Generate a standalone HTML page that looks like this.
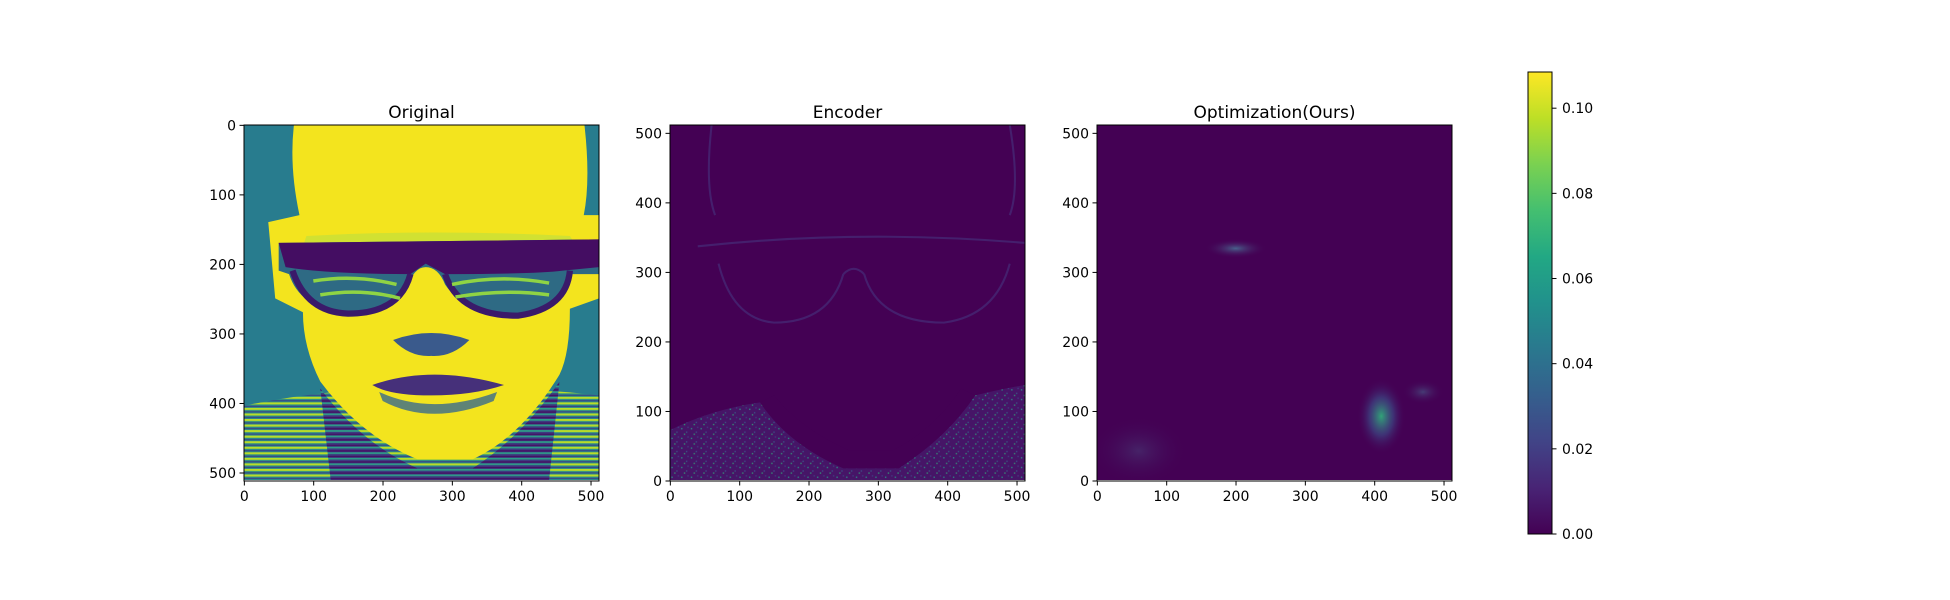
<!DOCTYPE html>
<html><head><meta charset="utf-8"><style>
html,body{margin:0;padding:0;background:#fff;}
svg{display:block;font-family:"DejaVu Sans","Liberation Sans",sans-serif;}
</style></head><body>
<svg id="fig" width="1950" height="600" viewBox="0 0 1950 600">
<defs>
 <linearGradient id="vir" x1="0" y1="1" x2="0" y2="0">
  <stop offset="0" stop-color="#440154"/><stop offset="0.1" stop-color="#482475"/>
  <stop offset="0.2" stop-color="#414487"/><stop offset="0.3" stop-color="#355f8d"/>
  <stop offset="0.4" stop-color="#2a788e"/><stop offset="0.5" stop-color="#21918c"/>
  <stop offset="0.6" stop-color="#22a884"/><stop offset="0.7" stop-color="#44bf70"/>
  <stop offset="0.8" stop-color="#7ad151"/><stop offset="0.9" stop-color="#bddf26"/>
  <stop offset="1" stop-color="#fde725"/>
 </linearGradient>
 <pattern id="stripes" width="12" height="8" patternUnits="userSpaceOnUse">
  <rect width="12" height="8" fill="#2a8a8a"/>
  <rect y="0" width="12" height="3" fill="#b8dc2a"/>
  <rect y="5" width="12" height="1.5" fill="#3b3f85"/>
 </pattern>
 <pattern id="stripesDark" width="12" height="8" patternUnits="userSpaceOnUse">
  <rect width="12" height="8" fill="#3d3a80"/>
  <rect y="0" width="12" height="2.5" fill="#2f9a88"/>
  <rect y="5" width="12" height="2" fill="#450f63"/>
 </pattern>
 <pattern id="speck" width="14" height="14" patternUnits="userSpaceOnUse">
  <rect width="14" height="14" fill="#46186a"/>
  <rect x="2" y="3" width="2" height="2" fill="#2a9a8a"/>
  <rect x="9" y="8" width="2" height="2" fill="#3b5a8d"/>
  <rect x="6" y="11" width="2" height="2" fill="#33a07c"/>
  <rect x="11" y="1" width="2" height="2" fill="#414487"/>
 </pattern>
 <radialGradient id="blob"><stop offset="0" stop-color="#2fb47c" stop-opacity="0.9"/><stop offset="0.5" stop-color="#3b528b" stop-opacity="0.6"/><stop offset="1" stop-color="#440154" stop-opacity="0"/></radialGradient>
 <radialGradient id="blob2"><stop offset="0" stop-color="#4a7a9a" stop-opacity="0.8"/><stop offset="1" stop-color="#440154" stop-opacity="0"/></radialGradient>
 <clipPath id="c1"><rect x="0" y="0" width="512" height="512"/></clipPath>
</defs>

<!-- Original face image (image coords 0..512) -->
<g transform="translate(244,125) scale(0.6934)" clip-path="url(#c1)">
 <rect width="512" height="512" fill="#287c8e"/>
 <path d="M0,405 Q60,392 130,385 L330,380 Q430,380 512,390 L512,512 L0,512 Z" fill="url(#stripes)"/>
 <path d="M110,380 Q170,460 250,495 L330,495 Q400,450 455,370 L440,512 L125,512 Z" fill="url(#stripesDark)"/>
 <path d="M72,0 L491,0 Q500,80 490,130 L512,130 L512,250 L470,265 Q470,330 455,360 Q400,450 330,482 L250,482 Q170,450 110,370 Q85,320 85,270 L45,250 L35,140 L80,130 Q65,60 72,0 Z" fill="#f3e41e"/>
 <path d="M90,160 Q270,150 470,160 L480,175 Q270,165 85,175 Z" fill="#c2df3a" opacity="0.7"/>
 <path d="M50,170 L512,165 L512,215 L470,215 Q470,265 400,272 Q320,275 290,230 Q280,205 262,205 Q245,205 235,235 Q210,275 140,270 Q80,262 65,215 L50,210 Z" fill="#2e6a84"/>
 <path d="M50,170 L512,165 L512,205 L460,210 Q420,215 290,215 L262,200 L240,215 Q120,215 60,205 Z" fill="#440d62"/>
 <path d="M70,210 Q90,270 150,272 Q225,272 240,215 M290,215 Q310,275 395,275 Q465,265 470,210" fill="none" stroke="#3a1a6a" stroke-width="9"/>
 <path d="M100,225 Q160,215 220,230 M300,230 Q370,215 440,228 M110,245 Q170,235 225,250 M305,248 Q375,236 440,245" stroke="#8fd444" stroke-width="5" fill="none"/>
 <path d="M215,310 Q270,290 325,310 Q300,335 270,333 Q240,335 215,310 Z" fill="#3a5a8c"/>
 <path d="M185,375 Q270,345 375,375 Q330,390 270,390 Q210,390 185,375 Z" fill="#46307a"/>
 <path d="M195,385 Q270,420 365,385 L360,398 Q270,435 200,398 Z" fill="#3a6a8c" opacity="0.8"/>
</g>

<!-- Encoder image -->
<g transform="translate(670,125) scale(0.6934)" clip-path="url(#c1)">
 <rect width="512" height="512" fill="#440154"/>
 <path d="M0,440 Q60,410 130,400 Q170,460 250,495 L330,495 Q400,450 440,390 Q480,380 512,375 L512,512 L0,512 Z" fill="url(#speck)" opacity="0.85"/>
 <path d="M130,400 Q170,460 250,495 L330,495 Q400,450 440,390 L420,380 Q380,440 320,470 L260,470 Q190,440 150,390 Z" fill="#440154"/>
 <g fill="none" stroke="#46337e" stroke-width="3" opacity="0.6">
  <path d="M60,0 Q50,90 65,130 M490,0 Q505,90 490,130"/>
  <path d="M40,175 Q270,150 512,170"/>
  <path d="M70,200 Q90,280 150,285 Q230,285 250,215 M280,215 Q300,285 395,285 Q470,275 490,200"/>
  <path d="M250,215 Q265,200 280,215"/>
 </g>
</g>

<!-- Optimization image -->
<g transform="translate(1097,125) scale(0.6934)" clip-path="url(#c1)">
 <rect width="512" height="512" fill="#440154"/>
 <ellipse cx="200" cy="178" rx="45" ry="14" fill="url(#blob2)"/>
 <ellipse cx="410" cy="420" rx="35" ry="55" fill="url(#blob)"/>
 <ellipse cx="470" cy="385" rx="30" ry="18" fill="url(#blob2)" opacity="0.6"/>
 <ellipse cx="60" cy="470" rx="70" ry="50" fill="url(#blob2)" opacity="0.35"/>
</g>

<g id="axes"></g>

<!-- colorbar -->
<rect x="1528" y="72" width="24" height="462" fill="url(#vir)" stroke="#000" stroke-width="1"/>
<g id="cbar"></g>
</svg>
<script>
const tickValues = [0, 100, 200, 300, 400, 500];
const imageSize = 512;
const panelTitles = ["Original", "Encoder", "Optimization(Ours)"];
const yInverted = [true, false, false];
const cbarTicks = [0.00, 0.02, 0.04, 0.06, 0.08, 0.10];
const cbarMax = 0.1085;

const NS = "http://www.w3.org/2000/svg";
const svg = document.getElementById("fig");
const axesG = document.getElementById("axes");
const cbarG = document.getElementById("cbar");
const lefts = [244, 670, 1097], top0 = 125, W = 355, H = 356;
function mk(tag, attrs, parent, text) {
  const e = document.createElementNS(NS, tag);
  for (const k in attrs) e.setAttribute(k, attrs[k]);
  if (text !== undefined) e.textContent = text;
  parent.appendChild(e); return e;
}
panelTitles.forEach((t, i) => {
  const L = lefts[i];
  const g = mk("g", {}, axesG);
  
  
  const fr = mk("rect", {x: L, y: top0, width: W, height: H, fill: "none", stroke: "#000", "stroke-width": 1}, g);
  
  
  const tt = mk("text", {x: L + W / 2, y: top0 - 7, "text-anchor": "middle", "font-size": 17}, g, t);
  
  
  const sx = v => L + (v + 0.5) / imageSize * W;
  const sy = v => yInverted[i] ? top0 + (v + 0.5) / imageSize * H : top0 + H - (v) / imageSize * H;
  tickValues.forEach(v => {
    const x = sx(v);
    mk("line", {x1: x, x2: x, y1: top0 + H, y2: top0 + H + 4.5, stroke: "#000"}, g);
    const xl = mk("text", {x: x, y: top0 + H + 20, "text-anchor": "middle", "font-size": 14}, g, String(v));
    
    
    const y = sy(v);
    mk("line", {x1: L - 4.5, x2: L, y1: y, y2: y, stroke: "#000"}, g);
    const yl = mk("text", {x: L - 8, y: y + 5, "text-anchor": "end", "font-size": 14}, g, String(v));
    
    
  });
});
const cy = v => 534 - v / cbarMax * 462;
cbarTicks.forEach(v => {
  const y = cy(v);
  mk("line", {x1: 1552, x2: 1556.5, y1: y, y2: y, stroke: "#000"}, cbarG);
  const l = mk("text", {x: 1562, y: y + 5, "font-size": 14}, cbarG, v.toFixed(2));
  
  
});
</script>
</body></html>
